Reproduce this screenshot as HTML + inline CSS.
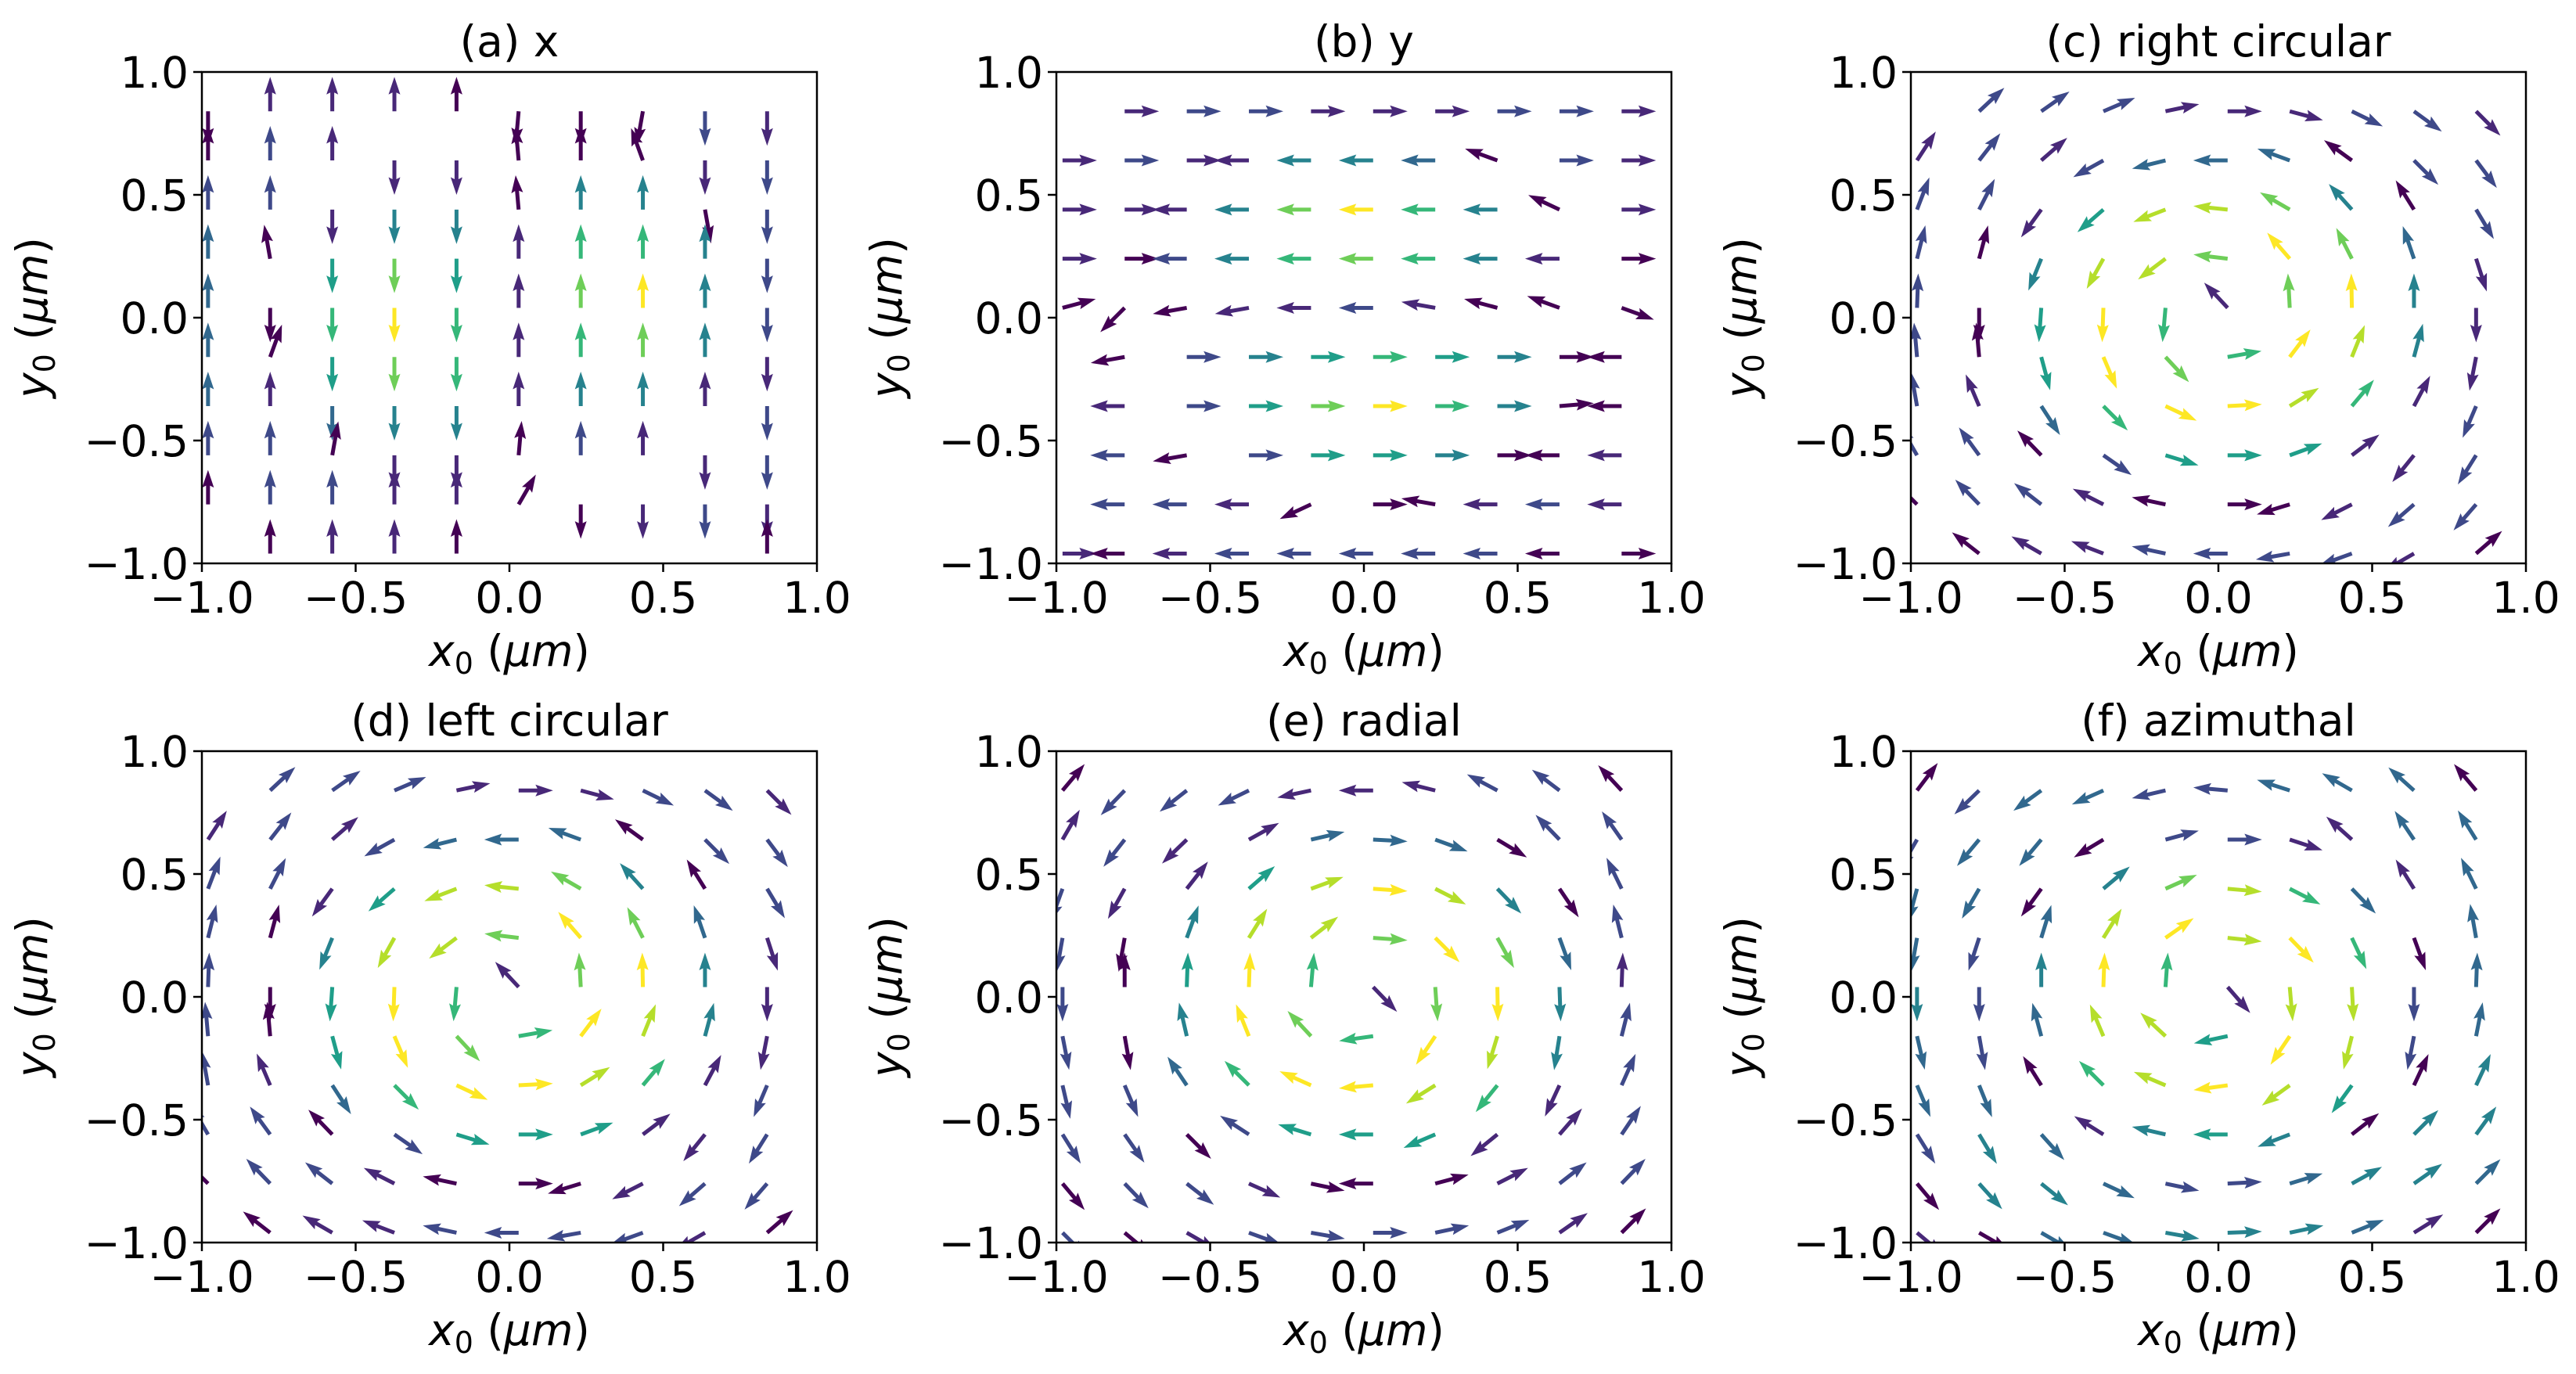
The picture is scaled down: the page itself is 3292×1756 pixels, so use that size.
<!DOCTYPE html>
<html><head><meta charset="utf-8"><style>
html,body{margin:0;padding:0;background:#fff;}
svg text{font-family:"DejaVu Sans","Liberation Sans",sans-serif;fill:#000;}
</style></head><body>
<svg id="fig" xmlns="http://www.w3.org/2000/svg" width="3292" height="1751" viewBox="0 0 3292 1751"></svg>
<script>
// ---- data: grid of arrow tails (data units) ----
const gridX = [-0.98,-0.778,-0.576,-0.374,-0.172,0.03,0.232,0.434,0.636,0.838];
const gridY = [0.84,0.64,0.44,0.24,0.04,-0.16,-0.36,-0.56,-0.76,-0.96];
const ticks = [-1.0,-0.5,0.0,0.5,1.0];
const tickLabels = ["\u22121.0","\u22120.5","0.0","0.5","1.0"];
const titles = ["(a) x","(b) y","(c) right circular","(d) left circular","(e) radial","(f) azimuthal"];
// angles (deg, CCW from +x), rows top->bottom; colours = viridis level 0..9
const angA = [
[270,90,90,90,90,265,270,260,270,270],
[90,90,90,270,270,95,90,110,270,270],
[90,90,270,270,270,95,90,90,280,270],
[90,100,270,270,270,90,90,90,90,270],
[90,270,270,270,270,90,90,90,90,270],
[90,70,270,270,270,90,90,90,90,270],
[90,90,270,270,270,90,90,90,90,270],
[90,90,80,270,270,85,90,90,270,270],
[90,90,90,90,90,60,270,270,270,270],
[null,90,90,90,90,null,null,null,null,90]];
const colA = [
[0,1,1,1,0,0,0,0,2,1],[0,2,1,1,1,0,0,0,1,2],[2,2,1,4,4,0,4,4,0,2],[3,0,5,7,5,1,6,6,4,2],
[3,0,6,9,6,1,7,9,4,2],[3,0,5,7,6,1,6,7,4,1],[3,1,3,4,4,1,4,4,1,2],[2,2,0,1,1,0,2,1,1,2],
[0,2,2,1,1,0,0,1,2,1],[0,0,1,1,0,0,0,0,0,0]];
const angB = [
[null,0,0,0,0,0,0,0,0,0],
[0,0,0,180,180,180,180,160,0,0],
[0,0,180,180,180,180,180,180,155,0],
[0,0,180,180,180,180,180,180,180,0],
[15,225,190,190,180,180,170,165,160,-20],
[null,190,0,0,0,0,0,0,0,180],
[null,180,0,0,0,0,0,0,5,180],
[null,180,190,0,0,0,0,0,180,180],
[null,180,180,180,205,0,170,180,180,180],
[0,180,180,180,180,180,180,180,180,0]];
const colB = [
[0,1,2,2,1,1,1,2,2,1],[1,2,1,1,4,4,3,0,2,1],[1,1,1,4,7,9,6,4,0,1],[1,0,2,4,6,7,6,4,1,0],
[0,0,0,1,1,2,1,0,0,0],[0,0,2,4,5,6,5,4,0,0],[0,1,2,5,7,9,6,4,0,0],[0,2,0,2,5,5,4,0,0,1],
[0,2,2,1,0,0,0,1,2,1],[1,0,1,2,2,2,2,2,0,0]];
const angC = [
[null,43,35,23,12,0,-15,-26,-36,-45],
[57,52,41,209,194,180,160,144,-45,-53],
[69,63,234,221,201,174,150,132,122,-59],
[76,75,248,241,217,173,131,117,109,-72],
[88,270,266,268,265,133,93,91,90,270],
[95,95,-75,-67,-47,10,53,68,75,259],
[100,113,-57,-45,-25,3,32,50,62,247],
[120,126,134,-35,-17,0,20,37,231,238],
[135,134,142,153,168,0,197,207,221,229],
[null,142,150,159,168,180,190,200,210,41]];
const colC = [
[0,2,2,2,1,1,1,2,2,1],[1,2,1,2,3,3,3,0,2,2],[2,2,1,5,8,8,7,4,0,2],[2,0,4,8,8,7,9,7,3,1],
[2,0,5,9,6,1,7,9,4,1],[2,0,5,9,7,6,9,8,4,1],[2,1,3,6,9,9,8,6,1,2],[2,2,0,2,5,5,5,1,1,2],
[0,2,2,1,0,0,0,1,2,2],[0,0,1,1,2,2,2,2,1,0]];
const angD = [
[null,43,35,23,12,0,-15,-26,-36,-45],
[57,52,41,209,194,180,160,144,-45,-53],
[69,63,234,221,201,174,150,132,122,-59],
[76,75,248,241,217,173,131,117,109,-72],
[88,270,266,268,265,133,93,91,90,270],
[95,95,-75,-67,-47,10,53,68,75,259],
[100,113,-57,-45,-25,3,32,50,62,247],
[120,126,134,-35,-17,0,20,37,231,238],
[135,134,142,153,168,0,197,207,221,229],
[null,142,150,159,168,180,190,200,210,41]];
const colD = [
[0,2,2,2,1,1,1,2,2,1],[1,2,1,2,3,3,3,0,2,2],[2,2,1,5,8,8,7,4,0,2],[2,0,4,8,8,7,9,7,3,1],
[2,0,5,9,6,1,7,9,4,1],[2,0,5,9,7,6,9,8,4,1],[2,1,3,6,9,9,8,6,1,2],[2,2,0,2,5,5,5,1,1,2],
[0,2,2,1,0,0,0,1,2,2],[0,0,1,1,2,2,2,2,1,0]];
const angE = [
[50,226,218,206,192,180,166,152,143,133],
[60,232,224,29,13,-3,-20,-31,134,125],
[250,241,52,41,20,-4,-27,-46,-56,116],
[260,260,70,58,38,-4,-45,-61,-70,104],
[270,90,88,88,85,-46,-86,-89,-88,88],
[-79,-80,103,112,133,188,236,253,261,76],
[-77,-67,124,135,156,185,212,231,245,66],
[-58,-55,-45,147,163,180,203,219,49,56],
[-50,-46,-38,-24,-12,180,15,27,38,46],
[-45,-40,-30,-20,-10,0,12,22,35,45]];
const colE = [
[0,2,2,2,1,1,1,2,2,0],[1,2,1,1,3,3,3,0,2,2],[2,1,1,5,8,9,8,4,0,2],[2,0,4,8,8,7,9,7,3,2],
[2,0,5,9,6,1,7,9,4,1],[2,0,4,9,7,6,9,8,4,2],[2,2,3,6,9,9,8,6,1,2],[2,2,0,2,5,5,5,1,1,2],
[0,2,2,1,0,0,0,1,2,2],[2,0,1,2,2,2,2,2,1,0]];
const angF = [
[53,224,216,204,193,175,162,150,138,130],
[240,230,230,211,15,0,-18,138,124,122],
[255,240,234,40,24,-5,-27,-46,122,116],
[260,252,73,58,35,-6,-46,-65,-70,100],
[270,270,90,88,86,-49,-85,-87,270,88],
[-77,-80,105,113,137,192,236,256,259,79],
[-67,-68,122,135,157,188,216,234,65,65],
[-58,-59,-48,148,167,180,201,38,45,54],
[-50,-48,-39,-25,-12,3,17,29,35,45],
[-40,-30,-30,-20,-10,2,12,22,32,45]];
const colF = [
[0,2,3,3,2,2,3,3,3,0],[2,3,3,0,2,2,1,1,3,3],[3,3,0,4,7,8,6,3,1,3],[3,2,3,8,9,8,9,6,0,3],
[4,2,4,9,6,1,8,8,2,3],[3,2,3,8,8,5,9,8,2,3],[3,3,0,6,8,9,8,5,0,4],[2,4,3,1,4,5,4,0,4,4],
[0,4,4,3,2,2,3,4,4,3],[1,0,3,3,4,4,4,3,1,0]];
const panelAngles = [angA,angB,angC,angD,angE,angF];
const panelColors = [colA,colB,colC,colD,colE,colF];

// ---- layout ----
const viridis = ["#440154","#482878","#3e4989","#31688e","#26828e","#1f9e89","#35b779","#6ece58","#b5de2b","#fde725"];
const colLeft = [258,1350,2442], rowTop = [92,960], AW = 786, AH = 628;
const NS = "http://www.w3.org/2000/svg";
const svg = document.getElementById('fig');
function mk(tag, attrs, parent){ const e=document.createElementNS(NS,tag); for(const k in attrs) e.setAttribute(k,attrs[k]); (parent||svg).appendChild(e); return e; }
const L = 44, W = 5;
const FS = 55;

for(let p=0;p<6;p++){
  const x0 = colLeft[p%3], y0 = rowTop[Math.floor(p/3)];
  const sx = v => x0 + (v+1)/2*AW;
  const sy = v => y0 + (1-v)/2*AH;
  const g = mk('g',{});
  
  
  const cp = mk('clipPath',{id:'clip'+p}, g);
  mk('rect',{x:x0,y:y0,width:AW,height:AH},cp);
  const arrows = mk('g',{'clip-path':'url(#clip'+p+')'}, g);
  
  
  const A = panelAngles[p], C = panelColors[p];
  for(let r=0;r<gridY.length;r++) for(let c=0;c<gridX.length;c++){
    const a = A[r][c]; if(a===null) continue;
    const tx = sx(gridX[c]), ty = sy(gridY[r]);
    const hw = W/2, hl = 4.5*W, hb = 4*W, hwid = 1.5*W;
    const d = `M0,${-hw} L${L-hb},${-hw} L${L-hl},${-hwid} L${L},0 L${L-hl},${hwid} L${L-hb},${hw} L0,${hw} Z`;
    const el = mk('path',{d:d, fill:viridis[C[r][c]], transform:`translate(${tx},${ty}) rotate(${-a})`}, arrows);
    
    
  }
  const fr = mk('rect',{x:x0,y:y0,width:AW,height:AH,fill:'none',stroke:'#000','stroke-width':2.5}, g);
  
  
  for(let i=0;i<ticks.length;i++){
    const X = sx(ticks[i]), Y = sy(ticks[i]);
    mk('line',{x1:X,y1:y0+AH,x2:X,y2:y0+AH+11,stroke:'#000','stroke-width':2.5},g);
    const tl = mk('text',{x:X,y:y0+AH+63,'text-anchor':'middle','font-size':FS},g);
    tl.textContent = tickLabels[i];
    
    
    mk('line',{x1:x0-11,y1:Y,x2:x0,y2:Y,stroke:'#000','stroke-width':2.5},g);
    const yl = mk('text',{x:x0-17,y:Y+20,'text-anchor':'end','font-size':FS},g);
    yl.textContent = tickLabels[i];
    
    
  }
  const t = mk('text',{x:x0+AW/2,y:y0-20,'text-anchor':'middle','font-size':FS},g);
  t.textContent = titles[p];
  
  
  const xl = mk('text',{x:x0+AW/2,y:y0+AH+131,'text-anchor':'middle','font-size':FS},g);
  
  
  xl.innerHTML = '<tspan font-style="italic">x</tspan><tspan font-size="38" dy="10">0</tspan><tspan dy="-10"> (</tspan><tspan font-style="italic">μm</tspan>)';
  const ycx = x0-198, ycy = y0+AH/2;
  const ylab = mk('text',{x:ycx,y:ycy,'text-anchor':'middle','font-size':FS,transform:`rotate(-90 ${ycx} ${ycy})`},g);
  
  
  ylab.innerHTML = '<tspan font-style="italic">y</tspan><tspan font-size="38" dy="10">0</tspan><tspan dy="-10"> (</tspan><tspan font-style="italic">μm</tspan>)';
}
</script>
</body></html>
